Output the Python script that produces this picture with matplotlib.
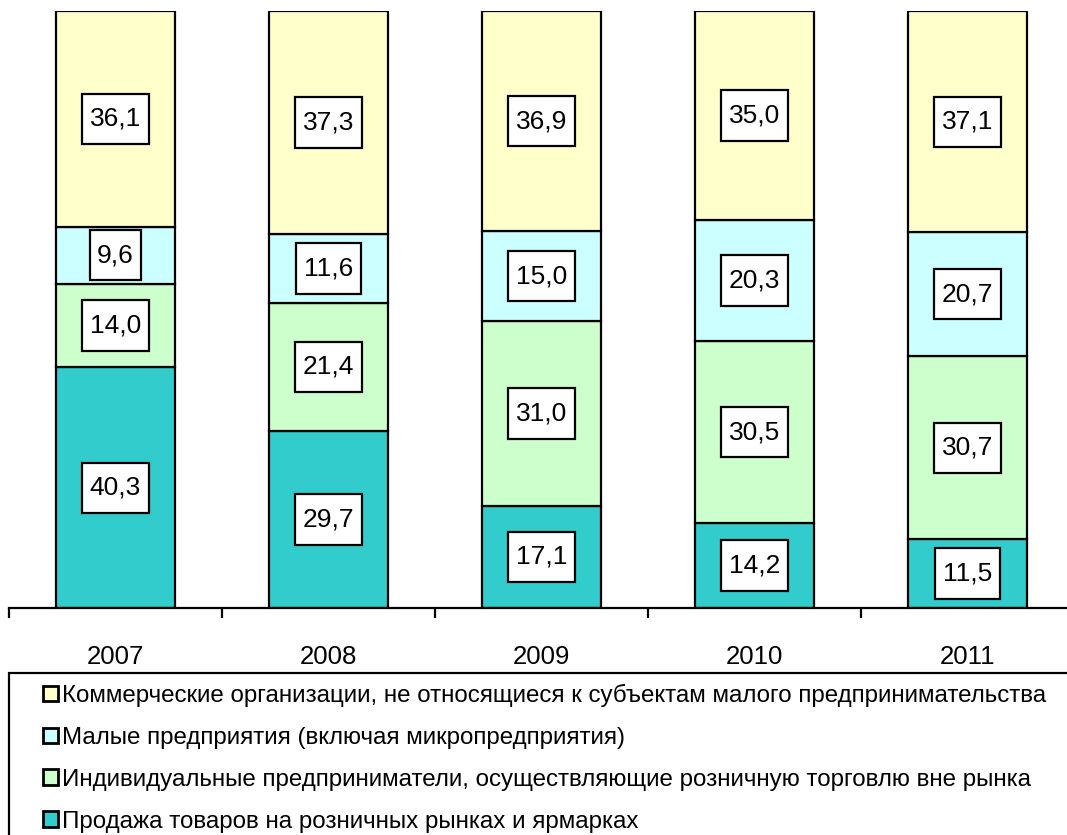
import matplotlib
matplotlib.use("Agg")
import matplotlib.pyplot as plt
from matplotlib.patches import Rectangle
from matplotlib.path import Path
import numpy as np

plt.rcParams['font.family'] = ['Liberation Sans', 'DejaVu Sans']

years = ['2007', '2008', '2009', '2010', '2011']
markets = [40.3, 29.7, 17.1, 14.2, 11.5]
individual = [14.0, 21.4, 31.0, 30.5, 30.7]
small = [9.6, 11.6, 15.0, 20.3, 20.7]
commercial = [36.1, 37.3, 36.9, 35.0, 37.1]

series = [
    (markets, '#33CCCC', 'Продажа товаров на розничных рынках и ярмарках'),
    (individual, '#CCFFCC', 'Индивидуальные предприниматели, осуществляющие розничную торговлю вне рынка'),
    (small, '#CCFFFF', 'Малые предприятия (включая микропредприятия)'),
    (commercial, '#FFFFCC', 'Коммерческие организации, не относящиеся к субъектам малого предпринимательства'),
]


def tallbox(x0, y0, width, height, mutation_size):
    # square box, more padding above/below than at the sides
    px, py = 0.28 * mutation_size, 0.5 * mutation_size
    x0, x1 = x0 - px, x0 + width + px
    y0, y1 = y0 - py, y0 + height + py
    return Path([(x0, y0), (x1, y0), (x1, y1), (x0, y1), (x0, y0)],
                closed=True)


W, H = 1067, 835
fig = plt.figure(figsize=(W / 100, H / 100), dpi=100)
# axis spans 9..1074 px horizontally, 608..11 px vertically
ax = fig.add_axes([9 / W, (H - 608) / H, 1065 / W, 597 / H])

x = np.arange(len(years))
bottom = np.zeros(len(years))
handles = []
for vals, col, name in series:
    vals = np.array(vals)
    bars = ax.bar(x, vals, width=0.56, bottom=bottom, color=col,
                  edgecolor='black', linewidth=1.6, label=name, zorder=2)
    handles.append(bars)
    for xi, b, v in zip(x, bottom, vals):
        ax.text(xi, b + v / 2, ('%.1f' % v).replace('.', ','),
                ha='center', va='center', fontsize=19, zorder=3,
                bbox=dict(boxstyle=tallbox, fc='white', ec='black', lw=1.6))
    bottom += vals

ax.set_xlim(-0.5, len(years) - 0.5)
ax.set_ylim(0, 100)
for s in ['top', 'right', 'left']:
    ax.spines[s].set_visible(False)
ax.spines['bottom'].set_linewidth(1.6)
ax.set_yticks([])
ax.set_xticks(x)
ax.set_xticklabels(years, fontsize=18.5)
ax.set_xticks(np.arange(-0.5, len(years), 1), minor=True)
ax.tick_params(axis='x', which='major', length=0, pad=27)
ax.tick_params(axis='x', which='minor', length=7, width=1.6, direction='out')

# legend frame running off the lower right edge
fig.patches.append(Rectangle((9 / W, -0.1), 1.2, (H - 673) / H + 0.1,
                             transform=fig.transFigure, fill=False,
                             ec='black', lw=1.6))
leg = fig.legend(handles[::-1], [s[2] for s in series][::-1],
                 loc='upper left', bbox_to_anchor=(43 / W, (H - 684) / H),
                 frameon=False, fontsize=17.4, handlelength=0.62,
                 handleheight=0.62, handletextpad=0.15, labelspacing=0.82,
                 borderpad=0, borderaxespad=0)
for p in leg.get_patches():
    p.set_linewidth(2.0)

fig.savefig('out.png', dpi=100)
